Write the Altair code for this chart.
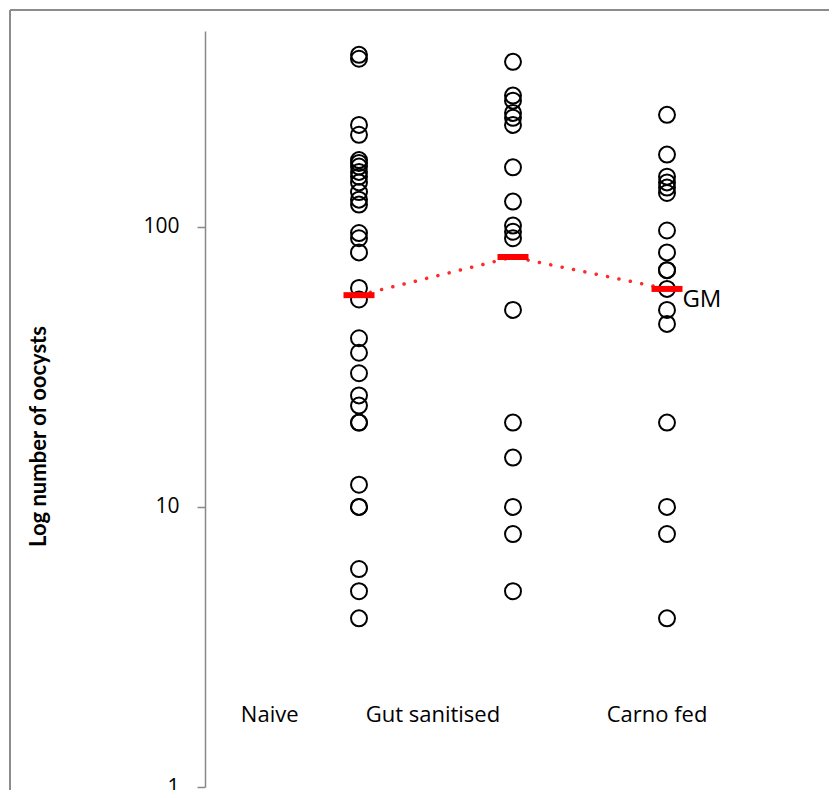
import altair as alt
import pandas as pd

# ---- data ----
categories = ["Naive", "Gut sanitised", "Carno fed"]
group_x = [1, 2, 3]

naive_vals = [411, 398, 231, 213, 173, 169, 164, 157, 151, 144, 133, 125, 120,
              95, 91, 81, 60.5, 55, 40, 35.5, 30, 25, 23, 20, 20, 12, 10, 10, 6, 5, 4]
gut_vals = [388, 294, 282, 255, 245, 231, 163, 123, 101, 96, 91, 50.5, 20, 15,
            10, 8, 5]
carno_vals = [251, 181, 151, 144, 138, 132, 97, 81, 70, 70, 60, 50.5, 45, 20,
              10, 8, 4]

gm_vals = [57, 78, 60]

# label anchors (data coordinates)
label_x = [0.42, 1.48, 2.935]
label_y = [1.81, 1.81, 1.81]
gm_label_x = 3.10
gm_label_y = 55

FONT = "Open Sans"

rows = []
for gx, vals in zip(group_x, [naive_vals, gut_vals, carno_vals]):
    for v in vals:
        rows.append({"x": gx, "v": v})
pts = pd.DataFrame(rows)
gm = pd.DataFrame({"x": group_x, "v": gm_vals})
labels = pd.DataFrame({"x": label_x, "v": label_y, "t": categories})
gmlab = pd.DataFrame({"x": [gm_label_x], "v": [gm_label_y], "t": ["GM"]})

xs = alt.Scale(domain=[0, 4], nice=False, zero=False)
ys = alt.Scale(type="log", domain=[1, 500], nice=False)

X = lambda: alt.X("x:Q", scale=xs, axis=None)

points = alt.Chart(pts).mark_point(
    shape="circle", filled=False, size=255, strokeWidth=2, color="black", opacity=1
).encode(
    x=X(),
    y=alt.Y("v:Q", scale=ys, axis=alt.Axis(
        values=[1, 10, 100], format="d", grid=False,
        tickSize=8, tickColor="#888888", tickWidth=1.5,
        domainColor="#888888", domainWidth=1.5,
        labelFont=FONT, labelFontSize=21, labelColor="black", labelPadding=18,
        title="Log number of oocysts", titleFont="Lato", titleFontSize=22,
        titleFontWeight="bold", titleColor="black", titleAngle=270,
        titleX=-167, titleY=405, titleAlign="center", titleBaseline="middle",
    )),
)

line = alt.Chart(gm).mark_line(
    color="#ff2a2a", strokeWidth=3.5, strokeDash=[0.1, 11.5], strokeCap="round"
).encode(x=X(), y=alt.Y("v:Q", scale=ys))

ticks = alt.Chart(gm).mark_tick(
    orient="horizontal", size=31, thickness=6, color="#ff0000", opacity=1
).encode(x=X(), y=alt.Y("v:Q", scale=ys))

gmtext = alt.Chart(gmlab).mark_text(
    align="left", baseline="middle", font=FONT, fontSize=24, color="black"
).encode(x=X(), y=alt.Y("v:Q", scale=ys), text="t:N")

cattext = alt.Chart(labels).mark_text(
    align="center", baseline="middle", font=FONT, fontSize=22, color="black"
).encode(x=X(), y=alt.Y("v:Q", scale=ys), text="t:N")

one = alt.Data(values=[{}])
border_top = alt.Chart(one).mark_rule(color="#8c8c8c", strokeWidth=2).encode(
    x=alt.value(-195), x2=alt.value(700), y=alt.value(-21))
border_left = alt.Chart(one).mark_rule(color="#8c8c8c", strokeWidth=2).encode(
    x=alt.value(-195), y=alt.value(-21), y2=alt.value(900))

chart = alt.layer(
    border_top, border_left, points, line, ticks, gmtext, cattext
).properties(
    width=616, height=756,
    autosize=alt.AutoSizeParams(type="none"),
    padding={"left": 197, "top": 23, "right": 8, "bottom": 3},
).configure_view(stroke=None)

chart.save("out.html", embed_options={"renderer": "svg", "actions": False})
